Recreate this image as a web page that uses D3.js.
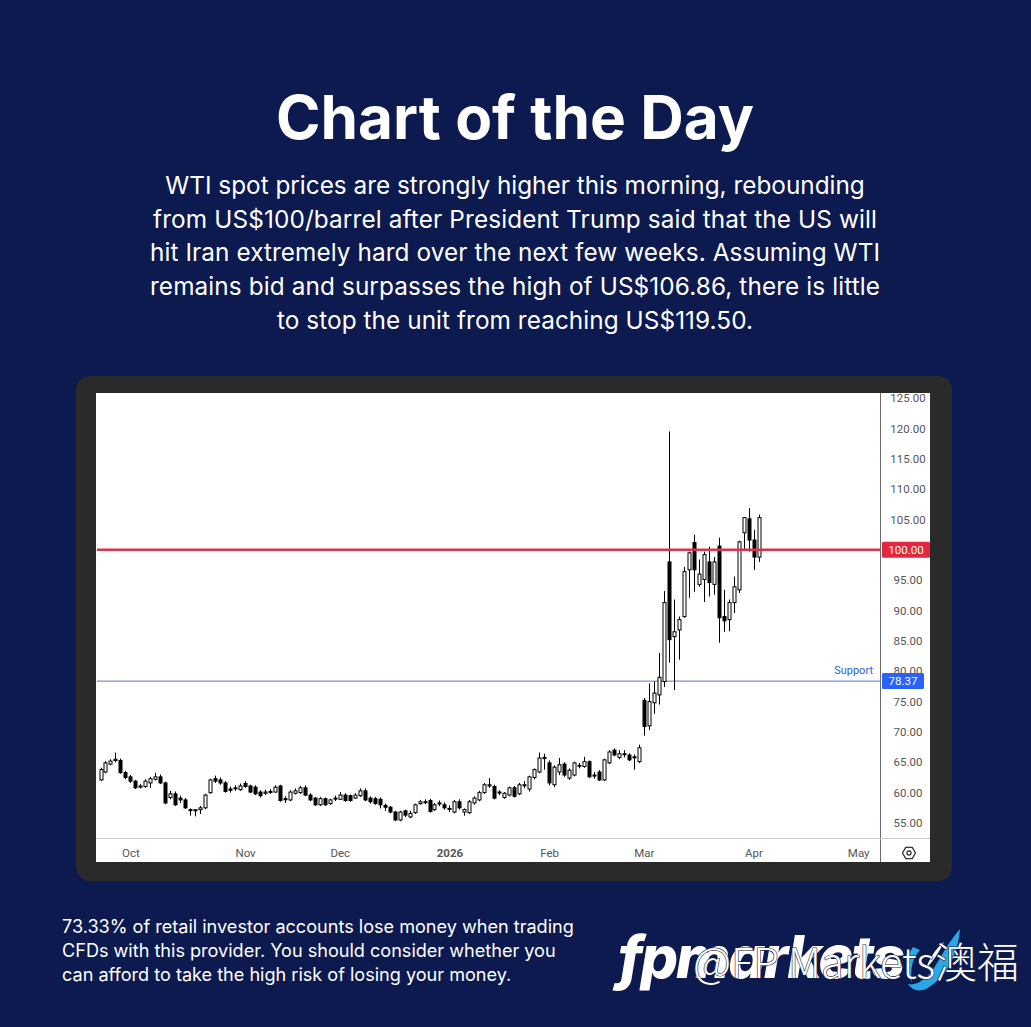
<!DOCTYPE html>
<html><head><meta charset="utf-8">
<script src="https://cdn.jsdelivr.net/npm/d3@7"></script>
<style>
html,body{margin:0;padding:0;background:#0c1a50;}
svg{display:block;}
</style></head>
<body>
<svg id="c" width="1031" height="1027"></svg>
<script>
// ---- Data (WTI daily candles, Sep 23 2025 – Apr 2 2026) ----
const opens  = [62.1,63.4,64.7,65.3,65.3,63.3,62.6,61.9,60.9,61.0,61.6,62.2,62.6,61.6,59.2,59.8,59.1,58.8,57.2,57.0,
 57.2,57.5,60.0,62.3,62.1,61.6,60.6,60.7,60.5,61.5,61.1,60.9,60.1,59.9,60.1,60.1,61.1,59.0,58.8,59.9,
 60.0,60.8,59.6,59.1,58.0,59.0,58.2,59.0,58.9,59.6,59.5,59.1,59.5,60.3,59.1,59.0,58.9,57.9,57.6,56.8,
 55.5,57.0,56.0,56.7,58.2,58.5,58.7,57.2,58.2,58.0,57.4,56.8,58.5,56.8,56.7,58.3,58.8,60.0,61.1,61.0,
 60.0,59.2,59.6,60.8,59.8,61.2,60.6,62.5,63.4,65.6,64.9,61.3,63.4,64.7,62.4,62.9,64.4,64.3,65.1,62.9,
 63.4,62.1,64.9,67.0,65.8,66.4,66.2,65.9,65.1,75.2,71.0,74.8,76.1,78.3,98.0,85.7,86.8,89.0,96.7,101.2,
 94.3,95.1,98.0,94.3,100.6,89.0,88.5,91.3,93.4,102.8,105.1,101.6,98.8];
const highs  = [64.1,65.2,65.5,66.6,65.6,63.6,62.9,62.1,61.4,62.2,62.6,63.3,63.0,61.8,60.3,60.2,59.5,59.1,57.4,57.3,
 57.8,59.8,62.3,62.8,62.5,61.9,61.0,61.2,61.5,61.9,61.3,61.2,60.4,60.5,60.6,61.2,61.3,59.4,60.4,60.7,
 61.1,61.2,59.9,59.3,59.3,59.2,59.0,59.5,60.1,59.9,59.7,59.9,60.7,60.7,59.4,59.3,59.2,58.2,57.8,57.0,
 57.0,57.2,57.0,58.2,58.8,58.9,59.0,58.3,58.7,58.4,57.9,58.8,58.9,57.4,58.8,59.4,60.3,61.6,62.4,61.3,
 60.4,60.1,61.0,61.1,61.6,61.9,62.8,64.0,66.6,66.4,65.3,64.5,65.7,65.0,64.0,65.1,64.9,65.9,65.3,63.4,
 63.7,65.6,67.0,67.3,67.0,67.0,66.5,66.3,67.9,75.6,78.0,78.3,83.0,93.2,119.5,91.8,89.0,97.2,99.7,102.5,
 98.4,99.7,100.5,98.8,102.0,93.4,91.8,95.6,101.5,105.4,106.86,103.3,105.8];
const lows   = [61.9,63.2,64.5,65.0,63.1,62.2,61.6,60.6,60.7,60.8,60.8,62.0,61.4,58.1,58.9,57.8,58.3,57.3,56.2,56.1,
 56.5,57.3,59.8,61.6,61.3,60.0,60.0,60.3,60.3,60.8,59.9,59.6,59.2,59.6,59.8,60.0,58.5,58.3,58.6,59.7,
 59.8,59.4,58.6,57.8,57.8,57.8,58.0,58.6,58.8,58.5,58.5,59.0,59.3,58.6,58.2,58.0,57.4,57.0,56.6,55.3,
 55.3,56.0,55.8,56.5,58.0,58.1,56.7,57.0,57.8,57.2,56.8,56.6,57.2,56.2,56.5,58.0,58.6,59.8,60.8,58.9,
 59.6,59.0,59.4,59.2,59.6,60.7,60.2,62.2,63.2,63.8,61.2,60.9,62.9,62.6,62.1,62.7,64.0,64.1,62.4,62.3,
 61.9,61.9,64.7,66.0,65.5,65.8,65.2,63.8,64.9,69.4,70.3,73.0,74.5,77.4,81.4,76.9,81.9,88.8,92.1,93.1,
 93.9,91.4,92.3,92.6,84.7,86.5,86.6,89.6,92.9,100.0,99.7,96.7,98.0];
const closes = [63.8,64.9,65.2,65.5,63.3,62.5,61.9,60.8,61.1,61.9,62.3,62.6,61.6,58.3,59.8,58.0,58.8,57.5,57.1,57.2,
 57.5,59.6,62.1,61.9,61.6,60.2,60.4,60.8,61.1,61.0,60.1,59.8,59.5,60.1,60.2,60.9,58.7,58.9,60.1,60.3,
 60.8,59.6,58.8,58.0,59.0,58.0,58.8,59.1,59.6,58.7,58.7,59.6,60.3,58.8,58.5,58.2,58.0,57.6,56.8,55.5,
 56.8,56.3,56.6,58.0,58.5,58.4,56.9,58.0,58.3,57.5,57.3,58.5,57.5,57.2,58.5,59.1,60.0,61.3,61.3,59.1,
 60.1,59.9,60.8,59.4,61.3,61.3,62.6,63.8,65.7,65.8,61.6,64.2,64.6,62.9,63.7,64.9,64.5,65.1,62.6,62.8,
 62.1,65.4,66.7,66.2,66.4,66.3,65.4,65.8,67.4,70.9,75.0,76.4,79.0,91.3,85.2,86.5,88.5,96.4,99.5,96.7,
 96.0,99.2,94.6,98.0,88.8,88.3,91.3,93.9,101.3,105.3,101.6,98.8,105.3];

const monthLabels = ["Oct","Nov","Dec","2026","Feb","Mar","Apr","May"];
const monthBarIdx = [6,29,48,70,90,109,131,152];
const priceTicks  = [55,60,65,70,75,80,85,90,95,100,105,110,115,120,125];
const resistanceLevel = 100.00;
const supportLevel = 78.37;

const titleText = "Chart of the Day";
const bodyLines = [
 "WTI spot prices are strongly higher this morning, rebounding",
 "from US$100/barrel after President Trump said that the US will",
 "hit Iran extremely hard over the next few weeks. Assuming WTI",
 "remains bid and surpasses the high of US$106.86, there is little",
 "to stop the unit from reaching US$119.50."
];
const bodyWidths = [700, 724, 730, 730, 476];
const disclaimerLines = [
 "73.33% of retail investor accounts lose money when trading",
 "CFDs with this provider. You should consider whether you",
 "can afford to take the high risk of losing your money."
];
const watermarkText = "@FP Markets澳福";

// ---- Drawing ----
const svg = d3.select("#c");
svg.append("rect").attr("width",1031).attr("height",1027).attr("fill","#0c1a50");

function fitText(sel, targetW){
  const w = sel.node().getComputedTextLength();
  const fs = parseFloat(sel.attr("font-size"));
  sel.attr("font-size", fs*targetW/w);
  return fs*targetW/w;
}

const title = svg.append("text").attr("x",515).attr("y",139)
  .attr("text-anchor","middle").attr("fill","#fff")
  .attr("font-family","Inter, 'Open Sans', sans-serif").attr("font-weight",700)
  .attr("font-size",60).text(titleText);
fitText(title, 478);

const bodyG = svg.append("g").attr("font-family","Inter, 'Open Sans', sans-serif")
  .attr("fill","#fff").attr("text-anchor","middle");
const b0 = bodyG.append("text").attr("x",515).attr("y",194).attr("font-size",22).text(bodyLines[0]);
const fsBody = fitText(b0, bodyWidths[0]);
bodyLines.slice(1).forEach((t,i)=>{
  const tx = bodyG.append("text").attr("x",515).attr("y",194+(i+1)*33.7).attr("font-size",fsBody).text(t);
  const w = tx.node().getComputedTextLength();
  if (Math.abs(w - bodyWidths[i+1]) < 30) tx.attr("textLength", bodyWidths[i+1]).attr("lengthAdjust","spacing");
});

// frame
svg.append("rect").attr("x",76).attr("y",376).attr("width",876).attr("height",505)
  .attr("rx",14).attr("fill","#2a2a2a");
svg.append("rect").attr("x",96).attr("y",393).attr("width",834).attr("height",469).attr("fill","#ffffff");

const plot = {l:97, r:880, t:393, b:838};
const x = d3.scaleLinear().domain([0,132]).range([100.5,758.5]);
const y = d3.scaleLinear().domain([55,125]).range([823,398]);

const defs = svg.append("defs");
defs.append("clipPath").attr("id","pc")
  .append("rect").attr("x",plot.l).attr("y",plot.t).attr("width",plot.r-plot.l).attr("height",plot.b-plot.t);
defs.append("clipPath").attr("id","ac")
  .append("rect").attr("x",880).attr("y",393).attr("width",50).attr("height",445);

// axes lines
svg.append("line").attr("x1",880.5).attr("x2",880.5).attr("y1",393).attr("y2",862).attr("stroke","#6b6b6b").attr("stroke-width",1);
svg.append("line").attr("x1",96).attr("x2",930).attr("y1",838.5).attr("y2",838.5).attr("stroke","#c8c8c8").attr("stroke-width",1);

// y axis
const yAxis = d3.axisRight(y).tickValues(priceTicks).tickFormat(d3.format(".2f")).tickSize(0).tickPadding(0);
const yg = svg.append("g").attr("clip-path","url(#ac)").append("g").attr("transform","translate(908,0)").call(yAxis);
yg.select(".domain").remove();
yg.selectAll("text").attr("text-anchor","middle").attr("x",0)
  .attr("font-family","Roboto, 'DejaVu Sans', sans-serif").attr("font-size",11.5).attr("fill","#555");

// x axis
const xAxis = d3.axisBottom(x).tickValues(monthBarIdx).tickFormat((d,i)=>monthLabels[i]).tickSize(0).tickPadding(0);
const xg = svg.append("g").attr("transform","translate(0,853)").call(xAxis);
xg.select(".domain").remove();
xg.selectAll("text").attr("dy","0.35em")
  .attr("font-family","Roboto, 'DejaVu Sans', sans-serif").attr("font-size",11.5).attr("fill","#555")
  .attr("font-weight",(d,i)=>monthLabels[i]==="2026"?700:400);

// candles
const data = opens.map((o,i)=>({i,o,h:highs[i],l:lows[i],c:closes[i]}));
const cg = svg.append("g").attr("clip-path","url(#pc)");
cg.append("line").attr("x1",plot.l).attr("x2",plot.r).attr("y1",y(supportLevel)).attr("y2",y(supportLevel))
  .attr("stroke","#4f7cc0").attr("stroke-width",1);
cg.append("text").attr("x",873).attr("y",y(supportLevel)-7).attr("text-anchor","end")
  .attr("font-family","Roboto, sans-serif").attr("font-size",11).attr("fill","#2f5fd0").text("Support");

cg.selectAll("line.wick").data(data).join("line").attr("class","wick")
  .attr("x1",d=>Math.round(x(d.i))+0.5).attr("x2",d=>Math.round(x(d.i))+0.5)
  .attr("y1",d=>y(d.h)).attr("y2",d=>y(d.l)).attr("stroke","#000").attr("stroke-width",1);
cg.selectAll("rect.body").data(data).join("rect").attr("class","body")
  .attr("x",d=>Math.round(x(d.i))-1)
  .attr("width",3)
  .attr("y",d=>y(Math.max(d.o,d.c)))
  .attr("height",d=>Math.max(1,Math.abs(y(d.o)-y(d.c))))
  .attr("fill",d=>d.c>=d.o?"#fff":"#000")
  .attr("stroke","#000").attr("stroke-width",1);

cg.append("line").attr("x1",plot.l).attr("x2",plot.r).attr("y1",y(resistanceLevel)).attr("y2",y(resistanceLevel))
  .attr("stroke","#d9344a").attr("stroke-width",2.5);

// price tags
function priceTag(v, color, w){
  const g = svg.append("g");
  g.append("rect").attr("x",882).attr("y",y(v)-8).attr("width",w).attr("height",16).attr("rx",1.5).attr("fill",color);
  g.append("text").attr("x",882+w/2).attr("y",y(v)+4).attr("text-anchor","middle")
   .attr("font-family","Roboto, 'DejaVu Sans', sans-serif").attr("font-size",11.5).attr("fill","#fff").text(v.toFixed(2));
}
priceTag(resistanceLevel,"#e3283e",48);
priceTag(supportLevel,"#2962ff",42);

// gear icon
const gear = svg.append("g").attr("transform","translate(909,853)");
gear.append("path").attr("d", d3.range(6).map(k=>{const a=Math.PI/3*k; return (k?"L":"M")+(6.5*Math.cos(a)).toFixed(2)+","+(6.5*Math.sin(a)).toFixed(2);}).join("")+"Z")
  .attr("fill","none").attr("stroke","#333").attr("stroke-width",1.3);
gear.append("circle").attr("r",2).attr("fill","none").attr("stroke","#333").attr("stroke-width",1.3);

// disclaimer
const dg = svg.append("g").attr("font-family","Inter, 'Open Sans', sans-serif").attr("fill","#fff");
const d0 = dg.append("text").attr("x",62).attr("y",933).attr("font-size",16).text(disclaimerLines[0]);
const fsD = fitText(d0, 512);
disclaimerLines.slice(1).forEach((t,i)=>dg.append("text").attr("x",62).attr("y",933+(i+1)*24).attr("font-size",fsD).text(t));

// logo
const logo = svg.append("text").attr("x",618).attr("y",978).attr("fill","#fff")
  .attr("font-family","Inter, 'Open Sans', sans-serif").attr("font-weight",800).attr("font-style","italic")
  .attr("font-size",70).attr("letter-spacing",-2).text("fpmarkets");
fitText(logo, 288);
// swoosh
svg.append("path")
  .attr("d","M960,929 C958,955 946,978 926,989 C918,992 912,990 908,984 C916,986 926,980 934,968 C941,957 947,944 960,929 Z")
  .attr("fill","#2aa8e6");
svg.append("path")
  .attr("d","M913,947 C905,958 905,972 912,982 C910,970 912,958 920,950 Z")
  .attr("fill","#2aa8e6");
svg.append("path")
  .attr("d","M944,942 C936,948 930,958 926,968 C933,962 939,952 944,942 Z")
  .attr("fill","#ffffff");

// watermark
const wm = svg.append("text").attr("x",693).attr("y",978)
  .attr("font-family","'Noto Sans CJK SC', 'Noto Sans', sans-serif").attr("font-weight",300)
  .attr("font-size",38).attr("fill","#fff").attr("stroke","#1a2340").attr("stroke-width",1.2)
  .attr("paint-order","stroke").text(watermarkText);
fitText(wm, 326);
</script>
</body></html>
